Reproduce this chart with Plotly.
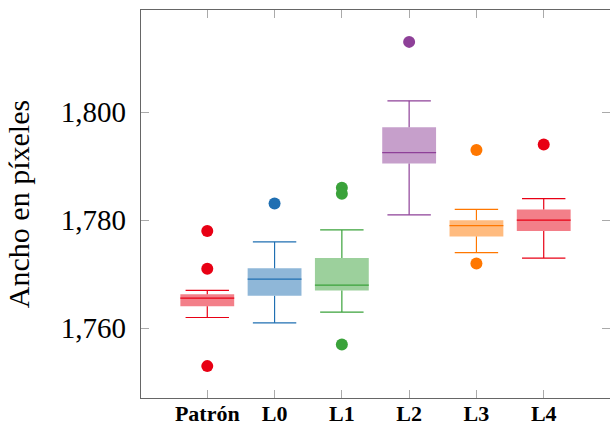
import plotly.graph_objects as go

categories = ["Patrón", "L0", "L1", "L2", "L3", "L4"]
q1 = [1764.1, 1766.0, 1767.0, 1790.5, 1777.0, 1778.0]
median = [1765.6, 1769.1, 1768.0, 1792.5, 1779.0, 1780.0]
q3 = [1766.3, 1771.1, 1773.0, 1797.2, 1780.0, 1782.0]
lowerfence = [1762.0, 1761.0, 1763.0, 1781.0, 1774.0, 1773.0]
upperfence = [1767.0, 1776.0, 1778.2, 1802.1, 1782.0, 1784.0]
outliers = [
    [1778.0, 1771.0, 1753.0],
    [1783.1],
    [1786.0, 1784.9, 1757.0],
    [1813.0],
    [1793.0, 1772.0],
    [1794.0],
]
y_ticks = [1760, 1780, 1800]
y_tick_labels = ["1,760", "1,780", "1,800"]

colors = [(232, 0, 20), (31, 111, 178), (58, 162, 58), (142, 64, 152), (255, 119, 0), (232, 0, 20)]

FONT = "Liberation Serif"

fig = go.Figure()
for i, cat in enumerate(categories):
    r, g, b = colors[i]
    base = f"rgb({r},{g},{b})"
    fill = f"rgba({r},{g},{b},0.5)"
    # box body (fill only)
    fig.add_trace(go.Box(
        x=[cat], q1=[q1[i]], median=[median[i]], q3=[q3[i]],
        lowerfence=[q1[i]], upperfence=[q3[i]],
        width=0.8,
        fillcolor=fill, line=dict(color=fill, width=0),
        boxpoints=False, hoverinfo="skip", showlegend=False,
    ))
    # whiskers
    fig.add_trace(go.Scatter(
        x=[cat, cat, None, cat, cat],
        y=[lowerfence[i], q1[i], None, q3[i], upperfence[i]],
        mode="lines", line=dict(color=base, width=1.2),
        hoverinfo="skip", showlegend=False,
    ))
    # caps
    fig.add_trace(go.Scatter(
        x=[cat, cat], y=[lowerfence[i], upperfence[i]],
        mode="markers",
        marker=dict(symbol="line-ew", size=31, line=dict(color=base, width=1.2)),
        hoverinfo="skip", showlegend=False,
    ))
    # median
    fig.add_trace(go.Scatter(
        x=[cat], y=[median[i]],
        mode="markers",
        marker=dict(symbol="line-ew", size=38.5, line=dict(color=base, width=1.3)),
        hoverinfo="skip", showlegend=False,
    ))
    # outliers
    fig.add_trace(go.Scatter(
        x=[cat] * len(outliers[i]), y=outliers[i],
        mode="markers",
        marker=dict(symbol="circle", size=12, color=base, line=dict(width=0)),
        showlegend=False,
    ))

fig.update_layout(
    width=610, height=423,
    margin=dict(l=141, r=0, t=10, b=25),
    plot_bgcolor="white", paper_bgcolor="white",
    boxmode="overlay", boxgap=0.2, boxgroupgap=0,
    showlegend=False,
    font=dict(family=FONT, color="black"),
)
fig.update_xaxes(
    type="category", categoryorder="array", categoryarray=categories,
    range=[-0.985, 5.985],
    automargin=False,
    showgrid=False, zeroline=False,
    showline=True, linecolor="#666666", linewidth=1.3, mirror="ticks",
    ticks="inside", ticklen=8, tickcolor="#aaaaaa", tickwidth=1.2,
    ticklabelstandoff=-5,
    tickfont=dict(family=FONT, size=22, weight="bold", color="black"),
)
fig.update_yaxes(
    range=[1747.1, 1818.9],
    automargin=False,
    tickvals=y_ticks, ticktext=y_tick_labels,
    showgrid=False, zeroline=False,
    showline=True, linecolor="#666666", linewidth=1.3, mirror="ticks",
    ticks="inside", ticklen=8, tickcolor="#aaaaaa", tickwidth=1.2,
    ticklabelstandoff=8,
    tickfont=dict(family=FONT, size=29, color="black"),
    title=dict(text="Ancho en píxeles", font=dict(family=FONT, size=30, color="black"), standoff=22),
)

fig.write_html(
    "out.html",
    config={"displayModeBar": False},
    post_script="document.body.style.margin='0';document.body.style.overflow='hidden';",
)
